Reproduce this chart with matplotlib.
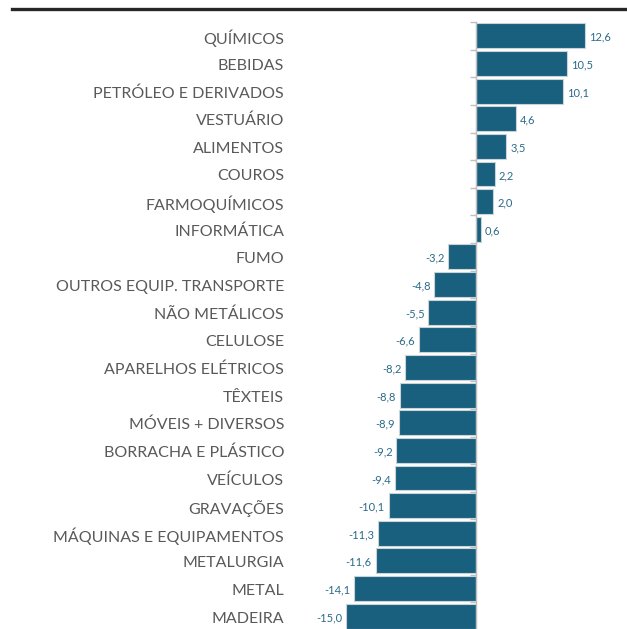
import numpy as np
import matplotlib
matplotlib.use('Agg')
import matplotlib.pyplot as plt
from matplotlib.lines import Line2D
from matplotlib.ticker import FixedLocator, NullLocator
from matplotlib.transforms import offset_copy

plt.rcParams['font.family'] = ['Lato', 'DejaVu Sans']

setores = ['QUÍMICOS', 'BEBIDAS', 'PETRÓLEO E DERIVADOS', 'VESTUÁRIO', 'ALIMENTOS',
           'COUROS', 'FARMOQUÍMICOS', 'INFORMÁTICA', 'FUMO', 'OUTROS EQUIP. TRANSPORTE',
           'NÃO METÁLICOS', 'CELULOSE', 'APARELHOS ELÉTRICOS', 'TÊXTEIS', 'MÓVEIS + DIVERSOS',
           'BORRACHA E PLÁSTICO', 'VEÍCULOS', 'GRAVAÇÕES', 'MÁQUINAS E EQUIPAMENTOS',
           'METALURGIA', 'METAL', 'MADEIRA']
variacao = [12.6, 10.5, 10.1, 4.6, 3.5, 2.2, 2.0, 0.6, -3.2, -4.8, -5.5, -6.6, -8.2,
            -8.8, -8.9, -9.2, -9.4, -10.1, -11.3, -11.6, -14.1, -15.0]

W, H = 627, 629
fig = plt.figure(figsize=(W/100, H/100), dpi=100)
ax_l, ax_r, ax_t, ax_b = 290, 620, 22, 630
ax = fig.add_axes([ax_l/W, 1-ax_b/H, (ax_r-ax_l)/W, (ax_b-ax_t)/H])

pos = np.arange(len(setores))
ax.barh(pos, variacao, height=0.9, color='#19607f', edgecolor='#c9d3d8', linewidth=0.8, zorder=2)

px = 8.65
ax.set_xlim((ax_l-476)/px, (ax_r-476)/px)
ax.set_ylim(len(setores)-0.5, -0.5)

for s in ['top', 'right', 'bottom']:
    ax.spines[s].set_visible(False)
ax.spines['left'].set_position(('data', 0))
ax.spines['left'].set_color('#bfbfbf')
ax.spines['left'].set_linewidth(1.0)
ax.spines['left'].set_zorder(3)
ax.xaxis.set_major_locator(NullLocator())
ax.yaxis.set_major_locator(NullLocator())
ax.yaxis.set_minor_locator(FixedLocator(np.arange(-0.5, len(setores), 1.0)))
ax.tick_params(axis='y', which='minor', length=4, color='#bfbfbf', width=1.0, direction='out')

ytr = offset_copy(ax.get_yaxis_transform(), fig=fig, y=-2.5, units='dots')
dtr = offset_copy(ax.transData, fig=fig, y=-1.5, units='dots')
for i, (nome, v) in enumerate(zip(setores, variacao)):
    ax.text(-0.018, i, nome, transform=ytr, ha='right', va='center',
            fontsize=11.5, color='#595959')
    txt = f'{v:.1f}'.replace('.', ',')
    if v >= 0:
        ax.text(v + 0.45, i, txt, transform=dtr, ha='left', va='center', fontsize=8, color='#2b6a88')
    else:
        ax.text(v - 0.45, i, txt, transform=dtr, ha='right', va='center', fontsize=8, color='#2b6a88')

fig.add_artist(Line2D([12/W, 1], [1-9/H, 1-9/H], color='#262626', linewidth=2.4,
                      transform=fig.transFigure))

fig.savefig('out.png', dpi=100)
